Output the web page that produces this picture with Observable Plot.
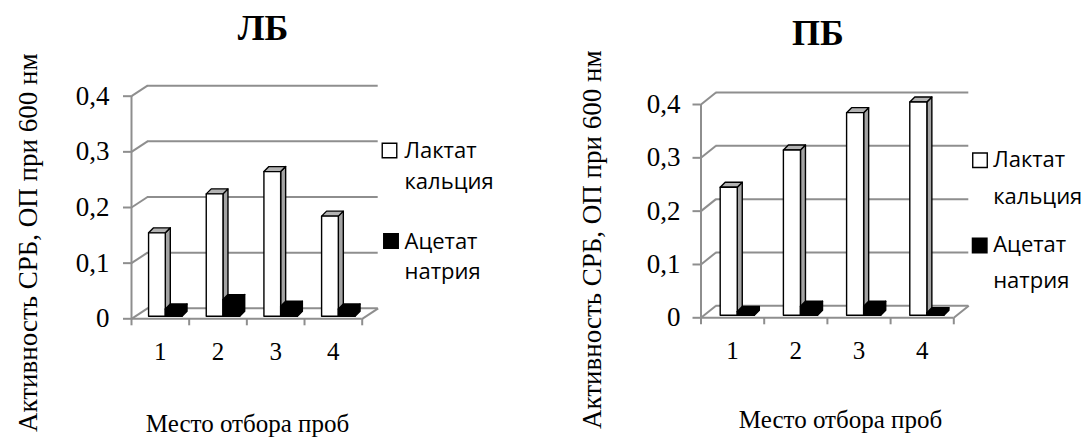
<!DOCTYPE html>
<html>
<head>
<meta charset="utf-8">
<script src="https://cdn.jsdelivr.net/npm/d3@7"></script>
<script src="https://cdn.jsdelivr.net/npm/@observablehq/plot@0.6"></script>
<style>
  html, body { margin: 0; padding: 0; background: #fff; }
  #root { position: relative; width: 1088px; height: 439px; overflow: hidden; }
  .panel { position: absolute; top: 0; width: 544px; height: 439px; }
  .panel svg { position: absolute; left: 0; top: 0; }
</style>
</head>
<body>
<div id="root"></div>
<script>
// Sampling sites and axis ticks
const categories = ["1", "2", "3", "4"];
const yTicks = [0, 0.1, 0.2, 0.3, 0.4];

// SRB activity (OD at 600 nm) by substrate
const lbLactate = [0.15, 0.22, 0.26, 0.18];
const lbAcetate = [0.013, 0.03, 0.018, 0.013];
const pbLactate = [0.24, 0.31, 0.38, 0.40];
const pbAcetate = [0.007, 0.017, 0.017, 0.005];

const panelTitles = ["ЛБ", "ПБ"];
const legendLactate = ["Лактат", "кальция"];
const legendAcetate = ["Ацетат", "натрия"];
const yTitle = "Активность СРБ, ОП при 600 нм";
const xTitle = "Место отбора проб";

const GRID = "#8e8e8e";
const SERIF = "Liberation Serif, Times New Roman, serif";
const SANS = "Open Sans, Liberation Sans, sans-serif";
const fmt = d => d === 0 ? "0" : d.toFixed(1).replace(".", ",");

// Draws each rect as a pseudo-3D box: front face, shaded side and top
function box3d({front, side, top, depth: [ddx, ddy], shift: [sx, sy]}) {
  return (index, scales, values) => {
    const g = d3.create("svg:g")
      .attr("stroke", "#000")
      .attr("stroke-width", 1.4)
      .attr("stroke-linejoin", "round");
    const {x1: X1, x2: X2, y1: Y1, y2: Y2} = values;
    for (const i of index) {
      const a = X1[i] + sx, b = X2[i] + sx, y0 = Y1[i] + sy, yt = Y2[i] + sy;
      g.append("path").attr("fill", side)
        .attr("d", `M${b},${y0}V${yt}l${ddx},${ddy}V${y0 + ddy}Z`);
      g.append("path").attr("fill", top)
        .attr("d", `M${a},${yt}H${b}l${ddx},${ddy}H${a + ddx}Z`);
      g.append("path").attr("fill", front)
        .attr("d", `M${a},${y0}V${yt}H${b}V${y0}Z`);
    }
    return g.node();
  };
}

// Moves the far end of each link back into the chart's depth
const intoDepth = ([ddx, ddy]) => (index, scales, values, dimensions, context, next) =>
  next(index, scales, {
    ...values,
    x2: Array.from(values.x2, v => v + ddx),
    y2: Array.from(values.y2, v => v + ddy)
  }, dimensions, context);

const panels = [
  {
    left: 0, title: panelTitles[0], lactate: lbLactate, acetate: lbAcetate,
    margin: {left: 131, right: 182.3, top: 95.7, bottom: 120.7},
    depth: [16, -10.5], barStart: 0.27, barWidth: 0.29, yPad: 14,
    titlePos: [262.5, 40], yTitlePos: [36, 53], xTitlePos: [247, 431],
    legend: {sq: [[389, 150], [390.5, 240.5]], tx: 404, base: [157, 188, 248, 278]}
  },
  {
    left: 544, title: panelTitles[1], lactate: pbLactate, acetate: pbAcetate,
    margin: {left: 156.5, right: 134.7, top: 104, bottom: 121.7},
    depth: [15, -12], barStart: 0.28, barWidth: 0.27, yPad: 12.5,
    titlePos: [273.5, 44], yTitlePos: [56, 50], xTitlePos: [296, 427],
    legend: {sq: [[435.5, 159.7], [435.2, 245]], tx: 448.7, base: [166.7, 203, 251.7, 287]}
  }
];

const root = document.getElementById("root");

for (const p of panels) {
  const m = p.margin;
  const n = categories.length;
  const bounds = d3.range(n + 1).map(i => i + 0.5);
  const at = ([x, y]) => ({frameAnchor: "top-left", dx: x - m.left, dy: y - m.top});

  const rows = (vals, k) => categories.map((c, i) => ({
    cat: c,
    x1: i + 0.5 + p.barStart + k * p.barWidth,
    x2: i + 0.5 + p.barStart + (k + 1) * p.barWidth,
    v: vals[i]
  }));

  const diagonals = [
    ...yTicks.map(t => ({x: 0.5, y: t})),
    {x: n + 0.5, y: 0}
  ];

  const legendText = [legendLactate[0], legendLactate[1], legendAcetate[0], legendAcetate[1]];

  const chart = Plot.plot({
    width: 544,
    height: 439,
    marginLeft: m.left,
    marginRight: m.right,
    marginTop: m.top,
    marginBottom: m.bottom,
    x: {domain: [0.5, n + 0.5], axis: null},
    y: {domain: [0, 0.4], axis: null},
    style: {background: "transparent", overflow: "visible", fontFamily: SERIF, fontSize: "25px"},
    marks: [
      // back wall gridlines
      Plot.ruleY(yTicks, {y: d => d, stroke: GRID, strokeWidth: 2, dx: p.depth[0], dy: p.depth[1]}),
      // side wall and floor edges running into depth
      Plot.link(diagonals, {
        x1: "x", y1: "y", x2: "x", y2: "y",
        stroke: GRID, strokeWidth: 2,
        render: intoDepth(p.depth)
      }),
      // front vertical axis and floor front edge
      Plot.ruleX([0.5], {x: d => d, stroke: GRID, strokeWidth: 2}),
      Plot.ruleY([0], {y: d => d, stroke: GRID, strokeWidth: 2}),
      Plot.axisY(yTicks, {
        tickSize: 8, tickPadding: p.yPad, tickFormat: fmt,
        stroke: GRID, strokeWidth: 2, color: "#000",
        fontSize: 27, fontFamily: SERIF, label: null
      }),
      Plot.axisX(bounds, {
        tickSize: 7, tickFormat: () => "", stroke: GRID, strokeWidth: 2, label: null
      }),
      Plot.axisX(d3.range(1, n + 1), {
        tickSize: 0, tickPadding: 23, tickFormat: i => categories[i - 1],
        color: "#000", fontSize: 25, fontFamily: SERIF, label: null
      }),
      // bars
      Plot.rect(rows(p.lactate, 0), {
        x1: "x1", x2: "x2", y1: () => 0, y2: "v",
        render: box3d({front: "#fff", side: "#a3a3a3", top: "#b3b3b3", depth: [5, -5], shift: [2, -2]})
      }),
      Plot.rect(rows(p.acetate, 1), {
        x1: "x1", x2: "x2", y1: () => 0, y2: "v",
        render: box3d({front: "#000", side: "#000", top: "#000", depth: [5, -5], shift: [2, -2]})
      }),
      // titles
      Plot.text([p.title], {
        ...at(p.titlePos), text: d => d, textAnchor: "middle", lineAnchor: "bottom",
        fontSize: 36, fontWeight: "bold", fontFamily: SERIF, fill: "#000"
      }),
      Plot.text([yTitle], {
        ...at(p.yTitlePos), text: d => d, rotate: -90, textAnchor: "end", lineAnchor: "bottom",
        fontSize: 27, fontFamily: SERIF, fill: "#000"
      }),
      Plot.text([xTitle], {
        ...at(p.xTitlePos), text: d => d, textAnchor: "middle", lineAnchor: "bottom",
        fontSize: 25, fontFamily: SERIF, fill: "#000"
      }),
      // legend
      Plot.dot([0], {...at(p.legend.sq[0]), symbol: "square", r: 8.2, fill: "#fff", stroke: "#000", strokeWidth: 1.4}),
      Plot.dot([0], {...at(p.legend.sq[1]), symbol: "square", r: 8.2, fill: "#000", stroke: "#000", strokeWidth: 1.4}),
      ...legendText.map((t, k) => Plot.text([t], {
        ...at([p.legend.tx, p.legend.base[k]]), text: d => d, textAnchor: "start", lineAnchor: "bottom",
        fontSize: 22, fontFamily: SANS, fill: "#000"
      }))
    ]
  });

  const div = document.createElement("div");
  div.className = "panel";
  div.style.left = p.left + "px";
  div.appendChild(chart);
  root.appendChild(div);
}
</script>
</body>
</html>
